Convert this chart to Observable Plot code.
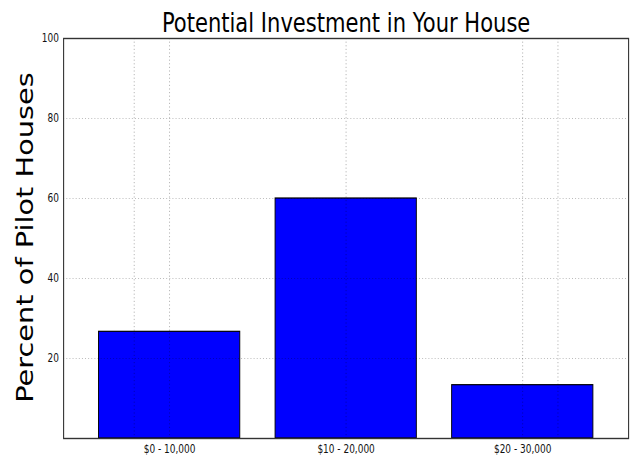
<!DOCTYPE html>
<html>
<head>
<meta charset="utf-8">
<script src="https://cdn.jsdelivr.net/npm/d3@7"></script>
<script src="https://cdn.jsdelivr.net/npm/@observablehq/plot@0.6"></script>
<style>
  html, body { margin: 0; padding: 0; background: white; }
  #chart { width: 636px; height: 458px; overflow: hidden; }
</style>
</head>
<body>
<div id="chart"></div>
<script>
// ---- data ----
const title = "Potential Investment in Your House";
const yLabel = "Percent of Pilot Houses";
const categories = ["$0 - 10,000", "$10 - 20,000", "$20 - 30,000"];
const percents = [26.67, 60, 13.33];
const yTicks = [20, 40, 60, 80, 100];
const yGrid = [20, 40, 60, 80];
const xGrid = [0.2, 0.4, 1.4, 2.4, 2.6];

// ---- derived table ----
const barWidth = 0.8;
const rows = categories.map((c, i) => ({category: c, i, value: percents[i]}));
const xTickPos = categories.map((_, i) => i + barWidth / 2);

// The reference is horizontally compressed; draw wide, then squeeze.
const squeeze = 0.78;
const W = Math.round(636 / squeeze);
const H = 458;

const plot = Plot.plot({
  width: W,
  height: H,
  marginLeft: 81,
  marginRight: 10,
  marginTop: 38,
  marginBottom: 20,
  style: {fontFamily: "DejaVu Sans", fontSize: "11.5px", color: "#111", background: "white"},
  x: {type: "linear", domain: [-0.2, 3.0]},
  y: {domain: [0, 100]},
  marks: [
    Plot.rectY(rows, {x1: d => d.i, x2: d => d.i + barWidth, y: "value", fill: "#0000ff", stroke: "#000", strokeWidth: 1.2}),
    Plot.ruleY(yGrid, {stroke: "#000", strokeOpacity: 0.4, strokeWidth: 0.8, strokeDasharray: "1.2,2.8"}),
    Plot.ruleX(xGrid, {stroke: "#000", strokeOpacity: 0.4, strokeWidth: 0.8, strokeDasharray: "1.2,2.4"}),
    Plot.frame({stroke: "#333", strokeWidth: 1.4}),
    Plot.axisY(yTicks, {tickSize: 0, tickPadding: 6, label: null, fontSize: 11.5}),
    Plot.axisX(xTickPos, {tickSize: 0, tickPadding: 6, label: null, tickFormat: d => categories[xTickPos.indexOf(d)], fontSize: 11.5}),
    Plot.text([title], {frameAnchor: "top", lineAnchor: "bottom", dy: -6.5, fontSize: 27, fill: "#000", text: d => d}),
    Plot.text([yLabel], {frameAnchor: "left", rotate: -90, textAnchor: "middle", lineAnchor: "middle", dx: -48, dy: -1, fontSize: 28.8, fill: "#000", text: d => d})
  ]
});

plot.setAttribute("viewBox", `0 0 ${W} ${H}`);
plot.setAttribute("width", 636);
plot.setAttribute("height", H);
plot.setAttribute("preserveAspectRatio", "none");
plot.style.width = "636px";
plot.style.height = H + "px";
plot.style.maxWidth = "none";
document.getElementById("chart").appendChild(plot);
</script>
</body>
</html>
